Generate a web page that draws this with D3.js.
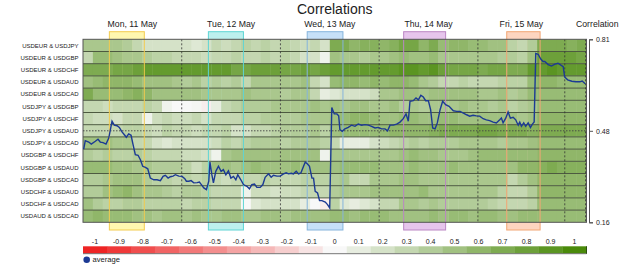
<!DOCTYPE html>
<html>
<head>
<meta charset="utf-8">
<script src="https://cdn.jsdelivr.net/npm/d3@7"></script>
<style>
  body { margin: 0; background: #fff; }
  text { font-family: "Liberation Sans", Arial, sans-serif; fill: #222; }
</style>
</head>
<body>
<svg id="chart" width="625" height="267"></svg>
<script>
// pair names, top to bottom
const pairs = [
  "USDEUR & USDJPY", "USDEUR & USDGBP", "USDEUR & USDCHF", "USDEUR & USDAUD", "USDEUR & USDCAD",
  "USDJPY & USDGBP", "USDJPY & USDCHF", "USDJPY & USDAUD", "USDJPY & USDCAD", "USDGBP & USDCHF",
  "USDGBP & USDAUD", "USDGBP & USDCAD", "USDCHF & USDAUD", "USDCHF & USDCAD", "USDAUD & USDCAD"
];

// rolling correlation per pair, one value per time slot (10 slots per day)
const eurJpy = [0.45,0.45,0.45,0.45,0.4,0.3,0.2,0.2,0.2,0.2, 0.2,0.15,0.2,0.3,0.25,0.3,0.35,0.3,0.35,0.3, 0.35,0.3,0.25,0.3,0.2,0.7,0.7,0.6,0.65,0.65, 0.6,0.65,0.75,0.75,0.6,0.7,0.55,0.6,0.6,0.55, 0.55,0.5,0.5,0.35,0.3,0.4,0.7,0.7,0.7,0.65,0.7];
const eurGbp = [0.3,0.55,0.55,0.5,0.45,0.45,0.4,0.35,0.35,0.3, 0.3,0.3,0.25,0.3,0.3,0.35,0.3,0.3,0.35,0.3, 0.35,0.3,0.2,0.2,0.05,0.5,0.45,0.45,0.4,0.45, 0.45,0.5,0.55,0.5,0.5,0.55,0.45,0.45,0.45,0.45, 0.45,0.45,0.4,0.4,0.35,0.5,0.8,0.8,0.8,0.8,0.75];
const eurChf = [0.7,0.7,0.7,0.75,0.75,0.8,0.85,0.85,0.85,0.85, 0.85,0.85,0.85,0.85,0.85,0.75,0.75,0.8,0.8,0.8, 0.75,0.75,0.8,0.75,0.8,0.85,0.85,0.85,0.85,0.85, 0.85,0.85,0.9,0.9,0.85,0.9,0.8,0.75,0.75,0.75, 0.7,0.75,0.75,0.7,0.7,0.85,0.85,0.9,0.85,0.85,0.85];
const eurAud = [0.5,0.55,0.6,0.6,0.6,0.55,0.5,0.5,0.5,0.45, 0.4,0.45,0.35,0.4,0.35,0.4,0.3,0.45,0.45,0.45, 0.45,0.45,0.5,0.3,0.2,0.55,0.6,0.6,0.55,0.6, 0.55,0.6,0.6,0.55,0.45,0.4,0.3,0.3,0.35,0.3, 0.3,0.3,0.35,0.35,0.35,0.55,0.6,0.6,0.55,0.55,0.55];
const eurCad = [0.7,0.55,0.55,0.55,0.6,0.65,0.6,0.5,0.5,0.5, 0.5,0.5,0.45,0.45,0.45,0.45,0.5,0.45,0.45,0.45, 0.4,0.45,0.45,0.3,0.1,0.15,0.2,0.2,0.2,0.25, 0.45,0.45,0.5,0.5,0.45,0.5,0.5,0.5,0.5,0.5, 0.45,0.45,0.5,0.4,0.45,0.55,0.55,0.55,0.55,0.55,0.55];
const jpyGbp = [0.3,0.3,0.25,0.3,0.3,0.3,0.35,0.3,0.05,0.0, 0.0,0.02,-0.05,0.1,0.3,0.35,0.4,0.4,0.4,0.45, 0.45,0.45,0.45,0.5,0.45,0.5,0.45,0.5,0.5,0.45, 0.45,0.5,0.4,0.45,0.4,0.45,0.45,0.45,0.5,0.45, 0.45,0.4,0.45,0.35,0.4,0.45,0.55,0.55,0.55,0.55,0.55];
const jpyChf = [0.3,0.25,0.25,0.2,0.3,0.3,0.05,0.25,0.3,0.25, 0.25,0.3,0.2,0.3,0.3,0.3,0.35,0.35,0.4,0.4, 0.4,0.4,0.45,0.45,0.45,0.5,0.55,0.6,0.6,0.55, 0.5,0.5,0.55,0.55,0.5,0.5,0.55,0.55,0.5,0.5, 0.5,0.5,0.5,0.5,0.45,0.5,0.6,0.6,0.6,0.6,0.6];
const jpyAud = [0.3,0.3,0.3,0.3,0.35,0.35,0.3,0.25,0.35,0.3, 0.3,0.25,0.3,0.3,0.35,0.2,0.2,0.3,0.3,0.35, 0.4,0.4,0.4,0.45,0.35,0.5,0.55,0.55,0.55,0.55, 0.55,0.6,0.6,0.6,0.6,0.65,0.7,0.7,0.7,0.7, 0.75,0.75,0.7,0.7,0.7,0.65,0.7,0.7,0.7,0.7,0.7];
const jpyCad = [0.5,0.5,0.5,0.45,0.45,0.3,0.3,0.2,0.15,0.2, 0.2,0.2,0.2,0.25,0.35,0.3,0.35,0.4,0.4,0.4, 0.35,0.4,0.4,0.4,0.35,0.3,0.1,0.1,0.1,0.2, 0.25,0.3,0.35,0.4,0.35,0.4,0.4,0.4,0.45,0.45, 0.45,0.45,0.4,0.45,0.45,0.5,0.55,0.55,0.55,0.55,0.55];
const gbpChf = [0.4,0.35,0.4,0.35,0.35,0.4,0.35,0.3,0.3,0.3, 0.25,0.25,0.2,0.05,0.45,0.5,0.5,0.5,0.5,0.5, 0.5,0.5,0.5,0.5,0.05,0.45,0.45,0.45,0.45,0.45, 0.45,0.45,0.5,0.55,0.5,0.5,0.45,0.45,0.45,0.5, 0.55,0.55,0.55,0.55,0.55,0.55,0.6,0.6,0.6,0.6,0.6];
const gbpAud = [0.55,0.55,0.55,0.5,0.5,0.45,0.45,0.4,0.4,0.4, 0.35,0.25,0.35,0.5,0.5,0.45,0.5,0.55,0.5,0.5, 0.5,0.55,0.5,0.5,0.5,0.5,0.55,0.55,0.55,0.55, 0.5,0.5,0.5,0.55,0.5,0.5,0.5,0.55,0.5,0.5, 0.5,0.5,0.5,0.5,0.6,0.6,0.65,0.7,0.65,0.65,0.65];
const gbpCad = [0.4,0.4,0.45,0.5,0.5,0.5,0.4,0.35,0.35,0.3, 0.35,0.3,0.35,0.3,0.25,0.3,0.3,0.3,0.35,0.3, 0.3,0.3,0.35,0.35,0.35,0.4,0.45,0.3,0.3,0.45, 0.45,0.45,0.5,0.5,0.45,0.45,0.45,0.45,0.45,0.45, 0.45,0.45,0.45,0.3,0.4,0.5,0.6,0.6,0.6,0.6,0.6];
const chfAud = [0.4,0.4,0.5,0.55,0.6,0.5,0.45,0.45,0.4,0.35, 0.4,0.4,0.35,0.3,0.3,0.3,0.05,0.25,0.25,0.2, 0.25,0.25,0.3,0.3,0.3,0.4,0.45,0.45,0.45,0.5, 0.5,0.5,0.5,0.5,0.55,0.45,0.45,0.45,0.45,0.45, 0.45,0.45,0.35,0.3,0.3,0.4,0.6,0.6,0.6,0.6,0.6];
const chfCad = [0.5,0.4,0.35,0.35,0.4,0.4,0.35,0.35,0.35,0.35, 0.3,0.35,0.35,0.3,0.3,0.3,0.0,0.15,0.2,0.2, 0.2,0.2,0.1,0.0,-0.05,0.35,0.15,0.1,0.15,0.2, 0.3,0.3,0.45,0.45,0.4,0.45,0.4,0.4,0.4,0.4, 0.4,0.35,0.3,0.3,0.3,0.35,0.55,0.55,0.55,0.55,0.55];
const audCad = [0.55,0.6,0.55,0.55,0.55,0.5,0.5,0.45,0.5,0.5, 0.45,0.5,0.45,0.45,0.5,0.5,0.45,0.45,0.5,0.5, 0.45,0.5,0.5,0.5,0.5,0.55,0.55,0.5,0.55,0.55, 0.55,0.5,0.5,0.5,0.5,0.55,0.5,0.55,0.55,0.5, 0.55,0.55,0.5,0.5,0.55,0.55,0.55,0.55,0.55,0.55,0.55];
const corrRows = [eurJpy, eurGbp, eurChf, eurAud, eurCad, jpyGbp, jpyChf, jpyAud, jpyCad, gbpChf, gbpAud, gbpCad, chfAud, chfCad, audCad];

// days and sessions (in time slots)
const days = ["Mon, 11 May", "Tue, 12 May", "Wed, 13 May", "Thu, 14 May", "Fri, 15 May"];
const dayStart = [0, 10, 20, 30, 40];
const dayEnd = [10, 20, 30, 40, 48.8];
const gridLines = [10, 20, 30, 40, 48.8, 50.9];
const sessionStart = [2.67, 12.7, 22.71, 32.48, 42.92];
const sessionEnd = [6.21, 16.25, 26.33, 36.73, 46.3];
const sessionFill = ["#fff7b0", "#bdf0ee", "#c6e0f8", "#e6c5ec", "#fdd5c0"];
const sessionStroke = ["#f3cb4f", "#5ed4d4", "#86b4dc", "#bb86c4", "#f2a674"];

// average correlation
const avgTime = [0.07,0.23,0.58,0.84,1.25,1.52,1.75,2.03,2.33,2.61,2.94,3.17,3.45,3.68,3.95,4.19,4.39,4.63,4.87,5.07,
  5.3,5.58,5.81,6.05,6.32,6.56,6.82,7.17,7.5,7.84,8.11,8.34,8.62,8.85,9.12,9.36,9.7,10.04,10.31,10.47,
  10.72,10.95,11.22,11.56,11.79,11.99,12.24,12.5,12.74,12.86,13.05,13.21,13.45,13.72,13.99,14.22,14.47,14.73,14.98,15.24,
  15.48,15.68,15.99,16.25,16.6,16.86,17.1,17.37,17.61,17.95,18.22,18.45,18.79,19.06,19.29,19.64,19.97,20.31,20.58,20.82,
  21.09,21.32,21.6,21.83,22.07,22.34,22.51,22.74,22.94,23.19,23.35,23.52,23.76,23.96,24.2,24.54,24.77,24.99,25.2,25.45,
  25.72,25.9,26.02,26.26,26.53,26.87,27.2,27.55,27.88,28.22,28.56,28.9,29.23,29.58,29.91,30.24,30.59,30.85,31.1,31.43,
  31.77,32.11,32.44,32.72,32.95,33.12,33.46,33.73,33.97,34.22,34.47,34.71,34.98,35.21,35.42,35.66,35.89,36.17,36.43,36.73,
  37.08,37.51,37.85,38.19,38.53,38.86,39.17,39.51,39.85,40.18,40.53,40.86,41.19,41.54,41.87,42.21,42.38,42.55,42.82,43.06,
  43.29,43.57,43.83,44.08,44.24,44.41,44.64,44.84,45.09,45.32,45.52,45.7,45.86,46.1,46.37,46.59,46.77,47.12,47.45,47.8,
  48.11,48.41,48.64,48.79,49.09,49.51,49.93,50.32,50.56,50.87];
const avgValue = [0.42,0.45,0.445,0.438,0.448,0.455,0.445,0.443,0.438,0.459,0.519,0.505,0.503,0.497,0.481,0.471,0.462,0.474,0.469,0.436,
  0.4,0.398,0.382,0.359,0.355,0.35,0.317,0.311,0.311,0.308,0.323,0.327,0.317,0.322,0.324,0.329,0.324,0.323,0.315,0.306,
  0.306,0.308,0.3,0.301,0.303,0.294,0.282,0.276,0.306,0.374,0.329,0.3,0.341,0.359,0.341,0.347,0.329,0.343,0.317,0.323,
  0.311,0.329,0.311,0.294,0.288,0.279,0.294,0.296,0.284,0.284,0.294,0.32,0.332,0.32,0.327,0.324,0.324,0.332,0.336,0.332,
  0.334,0.332,0.341,0.332,0.335,0.359,0.374,0.367,0.359,0.317,0.317,0.27,0.264,0.237,0.237,0.232,0.223,0.211,0.568,0.545,
  0.545,0.538,0.489,0.483,0.492,0.497,0.505,0.501,0.509,0.505,0.507,0.505,0.501,0.495,0.497,0.492,0.492,0.485,0.505,0.505,
  0.509,0.516,0.528,0.545,0.519,0.59,0.592,0.602,0.595,0.611,0.605,0.592,0.592,0.56,0.495,0.492,0.513,0.56,0.59,0.578,
  0.572,0.556,0.554,0.554,0.548,0.542,0.537,0.54,0.538,0.537,0.528,0.524,0.521,0.516,0.513,0.524,0.53,0.513,0.53,0.552,
  0.53,0.533,0.524,0.505,0.516,0.501,0.513,0.501,0.513,0.497,0.509,0.516,0.76,0.757,0.74,0.731,0.731,0.72,0.715,0.722,
  0.725,0.718,0.713,0.676,0.666,0.661,0.659,0.659,0.662,0.652];
const avgTicks = [0.16, 0.485, 0.81];
const avgTickLabels = ["0.16", "0.48", "0.81"];

// colour legend
const legendTicks = [-1,-0.9,-0.8,-0.7,-0.6,-0.5,-0.4,-0.3,-0.2,-0.1,0,0.1,0.2,0.3,0.4,0.5,0.6,0.7,0.8,0.9,1];

const svg = d3.select("#chart");
const plotLeft = 83, plotRight = 586.5, plotTop = 39.3, plotBottom = 222.3;

const x = d3.scaleLinear().domain([0, 51]).range([plotLeft, plotRight]);
const y = d3.scaleBand().domain(pairs).range([plotTop, plotBottom]);
const yAvg = d3.scaleLinear().domain([0.16, 0.81]).range([plotBottom, plotTop]);
const color = d3.scaleLinear().domain([-1, 0, 1]).range(["#ee2424", "#f8f8f8", "#4a8a0a"]);
const legendX = d3.scaleBand().domain(legendTicks).range([plotLeft, plotRight]);

// title
svg.append("text")
  .attr("x", (plotLeft + plotRight) / 2).attr("y", 14)
  .attr("text-anchor", "middle")
  .style("font-size", "14px")
  .text("Correlations");

// session boxes behind the heatmap
svg.selectAll(".session")
  .data(days)
  .join("rect")
  .attr("class", "session")
  .attr("x", (d, i) => x(sessionStart[i]))
  .attr("y", 31.7)
  .attr("width", (d, i) => x(sessionEnd[i]) - x(sessionStart[i]))
  .attr("height", 230 - 31.7)
  .attr("fill", (d, i) => sessionFill[i])
  .attr("stroke", (d, i) => sessionStroke[i])
  .attr("stroke-width", 1);

// day labels
svg.selectAll(".day")
  .data(days)
  .join("text")
  .attr("class", "day")
  .attr("x", (d, i) => x((dayStart[i] + dayEnd[i]) / 2))
  .attr("y", 27)
  .attr("text-anchor", "middle")
  .style("font-size", "8.7px")
  .text(d => d);

svg.append("text")
  .attr("x", 576).attr("y", 27)
  .style("font-size", "8.7px")
  .text("Correlation");

// heatmap cells
const rowG = svg.selectAll(".row")
  .data(corrRows)
  .join("g")
  .attr("class", "row")
  .attr("transform", (d, i) => "translate(0," + y(pairs[i]) + ")");

rowG.selectAll("rect")
  .data(d => d)
  .join("rect")
  .attr("x", (d, i) => x(i))
  .attr("y", 0)
  .attr("width", (d, i) => Math.min(x(i + 1), plotRight) - x(i) + 0.3)
  .attr("height", y.bandwidth())
  .attr("fill", d => color(d));

// row labels
svg.selectAll(".pair")
  .data(pairs)
  .join("text")
  .attr("class", "pair")
  .attr("x", 78.5)
  .attr("y", d => y(d) + y.bandwidth() / 2)
  .attr("dy", "0.35em")
  .attr("text-anchor", "end")
  .style("font-size", "6px")
  .text(d => d);

// row separators
svg.selectAll(".sep")
  .data(pairs.slice(1))
  .join("line")
  .attr("class", "sep")
  .attr("x1", plotLeft).attr("x2", plotRight)
  .attr("y1", d => y(d)).attr("y2", d => y(d))
  .attr("stroke", "#4d5a40")
  .attr("stroke-width", 1);

// day grid lines
svg.selectAll(".grid")
  .data(gridLines)
  .join("line")
  .attr("class", "grid")
  .attr("x1", d => x(d)).attr("x2", d => x(d))
  .attr("y1", plotTop).attr("y2", plotBottom)
  .attr("stroke", "#333")
  .attr("stroke-dasharray", "2,2")
  .attr("stroke-width", 0.8);

// session borders over the heatmap
sessionStart.forEach((s, i) => {
  [s, sessionEnd[i]].forEach(t => {
    svg.append("line")
      .attr("x1", x(t)).attr("x2", x(t))
      .attr("y1", plotTop).attr("y2", plotBottom)
      .attr("stroke", sessionStroke[i])
      .attr("stroke-width", 1);
  });
});

// plot frame
svg.append("rect")
  .attr("x", plotLeft).attr("y", plotTop)
  .attr("width", plotRight - plotLeft).attr("height", plotBottom - plotTop)
  .attr("fill", "none")
  .attr("stroke", "#555");

// middle reference line
svg.append("line")
  .attr("x1", plotLeft).attr("x2", plotRight)
  .attr("y1", yAvg(avgTicks[1])).attr("y2", yAvg(avgTicks[1]))
  .attr("stroke", "#444")
  .attr("stroke-dasharray", "1.5,1.5")
  .attr("stroke-width", 0.9);

// average line
const line = d3.line()
  .x((d, i) => x(avgTime[i]))
  .y(d => yAvg(d));

svg.append("path")
  .datum(avgValue)
  .attr("d", line)
  .attr("fill", "none")
  .attr("stroke", "#1c3a94")
  .attr("stroke-width", 1.4);

// right axis
const axis = svg.append("g")
  .attr("transform", "translate(589,0)")
  .call(d3.axisRight(yAvg)
    .tickValues(avgTicks)
    .tickFormat((d, i) => avgTickLabels[i])
    .tickSize(4)
    .tickSizeOuter(4));
axis.select(".domain").attr("stroke", "#555");
axis.selectAll(".tick line").attr("stroke", "#555");
axis.selectAll(".tick text")
  .style("font-size", "7px")
  .style("font-family", "Liberation Sans, Arial, sans-serif")
  .attr("fill", "#222");

// colour legend
svg.selectAll(".lcell")
  .data(legendTicks)
  .join("rect")
  .attr("class", "lcell")
  .attr("x", d => legendX(d))
  .attr("y", 246.3)
  .attr("width", legendX.bandwidth() + 0.3)
  .attr("height", 7.4)
  .attr("fill", d => color(d));

svg.append("line")
  .attr("x1", plotLeft).attr("x2", plotRight)
  .attr("y1", 253.7).attr("y2", 253.7)
  .attr("stroke", "#777");
svg.append("line")
  .attr("x1", plotRight).attr("x2", plotRight)
  .attr("y1", 246.3).attr("y2", 253.7)
  .attr("stroke", "#2d4f10");

svg.selectAll(".ltext")
  .data(legendTicks)
  .join("text")
  .attr("class", "ltext")
  .attr("x", d => legendX(d) + legendX.bandwidth() / 2)
  .attr("y", 244)
  .attr("text-anchor", "middle")
  .style("font-size", "7px")
  .text(d => String(d));

svg.append("circle")
  .attr("cx", 86.7).attr("cy", 259.7).attr("r", 3.3)
  .attr("fill", "#1c3a94");
svg.append("text")
  .attr("x", 92.5).attr("y", 262.4)
  .style("font-size", "7.6px")
  .text("average");
</script>
</body>
</html>
